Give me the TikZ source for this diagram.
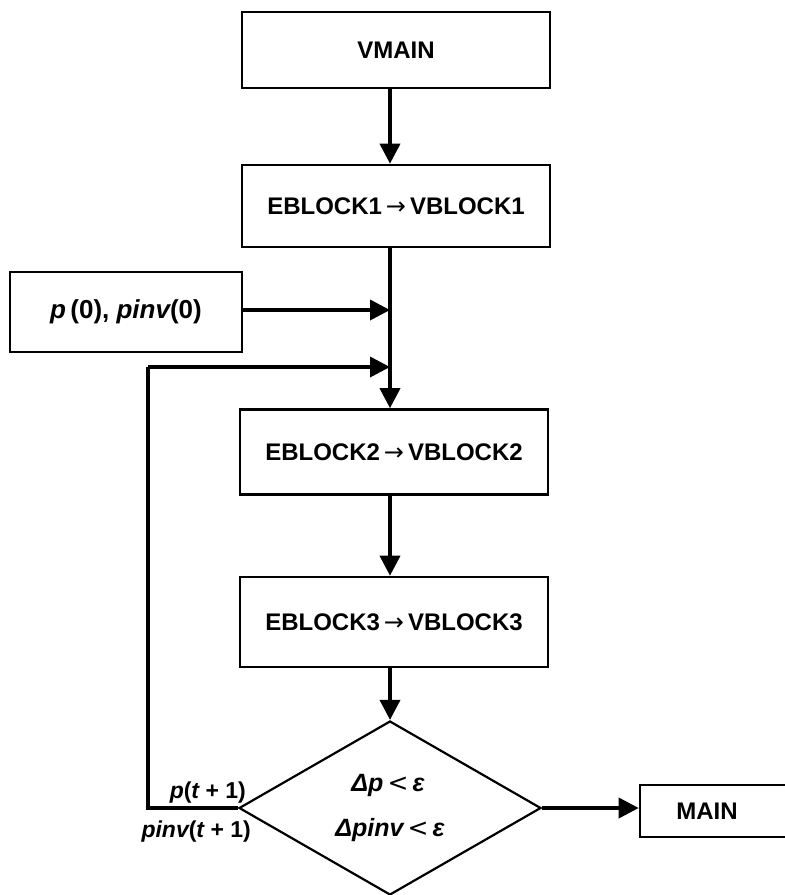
\documentclass[tikz,border=0pt]{standalone}
\usepackage{fontspec}
\setmainfont{Liberation Sans}
\newfontfamily\arrfont{DejaVu Sans}
\usetikzlibrary{arrows.meta,shapes.geometric,calc}
\newcommand{\rarr}{\,{\arrfont\mdseries →}\,}
\newcommand{\ltsym}{\,{\arrfont\mdseries <}\,}
\begin{document}
\begin{tikzpicture}[x=1pt,y=-1pt,
  every node/.style={font=\fontsize{24}{28}\selectfont\bfseries},
  blockbox/.style={draw,line width=2.6pt,inner sep=0pt},
  conn/.style={line width=3.6pt,-{Triangle[length=20pt,width=20pt]}},
  plainline/.style={line width=3.6pt},
  mathlbl/.style={inner sep=1pt,font=\fontsize{25}{28}\selectfont\bfseries\itshape}]
\useasboundingbox (0,0) rectangle (785,895);
\node[blockbox,minimum width=308pt,minimum height=76pt] (vmain) at (396,50) {VMAIN};
\node[blockbox,minimum width=308pt,minimum height=82pt] (eb1) at (396,206) {EBLOCK1\rarr VBLOCK1};
\node[blockbox,minimum width=232pt,minimum height=80pt,font=\fontsize{26}{28}\selectfont\bfseries] (p0) at (126,312) {\itshape p\,\upshape(0),\;\itshape pinv\upshape(0)};
\node[blockbox,minimum width=308pt,minimum height=85pt] (eb2) at (394,452) {EBLOCK2\rarr VBLOCK2};
\node[blockbox,minimum width=308pt,minimum height=90pt] (eb3) at (394,622) {EBLOCK3\rarr VBLOCK3};
\node[draw,diamond,line width=2.2pt,inner sep=0pt,minimum width=302pt,minimum height=174pt] (dec) at (390,808) {};
\node[mathlbl] (d1) at (388,785) {Δp\ltsym ε};
\node[mathlbl] (d2) at (390,830) {Δpinv\ltsym ε};
\node[blockbox,minimum width=160pt,minimum height=52pt] (mainb) at (720,811) {};
\node (maint) at (707,811) {MAIN};
\coordinate (j1) at (390,310);
\coordinate (j2) at (390,367);
\coordinate (c1) at (148,367);
\coordinate (c2) at (148,808);
\draw[conn] (vmain.south -| j1) -- (eb1.north -| j1);
\draw[plainline] (eb1.south -| j1) -- (j2);
\draw[conn] (j2) -- (eb2.north -| j1);
\draw[conn] (p0.east |- j1) -- (j1);
\draw[plainline] (dec.west) -- (c2) -- (c1);
\draw[conn] (c1) -- (j2);
\draw[conn] (eb2.south -| j1) -- (eb3.north -| j1);
\draw[conn] (eb3.south -| j1) -- (dec.north);
\draw[conn] (dec.east) -- (mainb.west |- dec.east);
\node[mathlbl,font=\fontsize{23}{26}\selectfont\bfseries\itshape,anchor=south east] (lp) at (247,804) {p\upshape(\itshape t\upshape\ + 1)};
\node[mathlbl,font=\fontsize{23}{26}\selectfont\bfseries\itshape,anchor=north east] (lpi) at (252,820) {pinv\upshape(\itshape t\upshape\ + 1)};
\end{tikzpicture}
\end{document}
